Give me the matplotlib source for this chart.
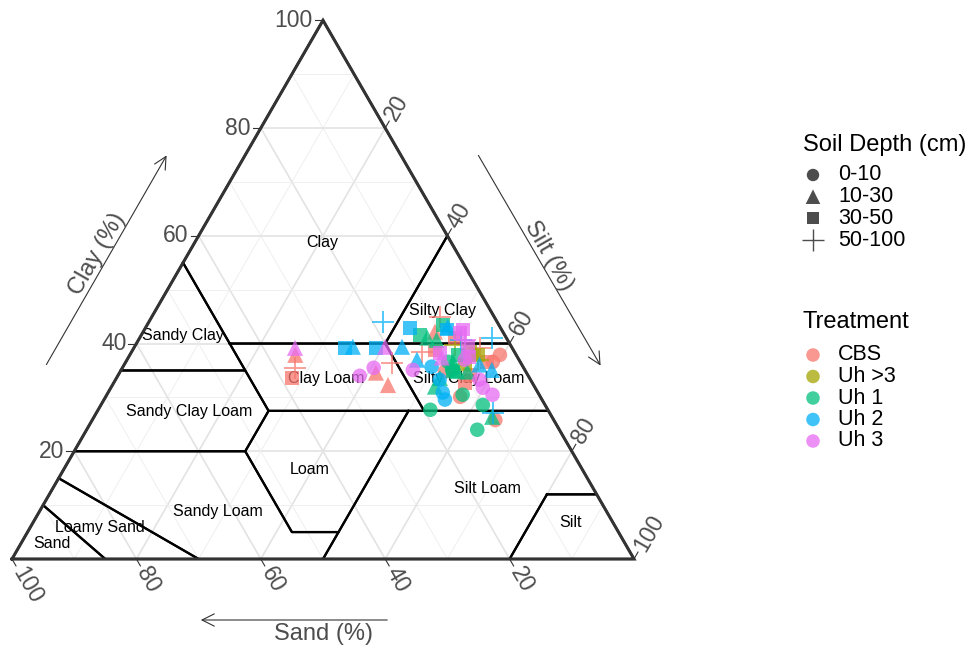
import numpy as np
import matplotlib.pyplot as plt

plt.rcParams['font.family'] = ['Liberation Sans', 'DejaVu Sans']

# classes
treatments = ['CBS', 'Uh >3', 'Uh 1', 'Uh 2', 'Uh 3']
treat_cols = ['#F8766D', '#A3A500', '#00BF7D', '#00B0F6', '#E76BF3']
depths = ['0-10', '10-30', '30-50', '50-100']
depth_marks = ['o', '^', 's', '+']

# samples: sand / silt / clay (%) and depth class
cbs_sand = [35.5, 36.7, 38.2, 20.7, 24.2, 23.4, 8.7, 14.8, 2.6, 12.9, 9.4, 4.4, 10.9, 5.3, 5.2, 12.6, 8.2, 9.3, 13.0, 10.8]
cbs_silt = [26.6, 27.8, 28.2, 42.9, 41.2, 44.3, 46.3, 46.7, 59.5, 57.0, 64.8, 59.0, 46.9, 58.1, 55.6, 48.7, 50.7, 56.5, 52.2, 56.5]
cbs_clay = [37.9, 35.5, 33.6, 36.4, 34.6, 32.3, 45.0, 38.5, 37.9, 30.1, 25.8, 36.6, 42.2, 36.6, 39.2, 38.7, 41.1, 34.2, 34.8, 32.7]
cbs_depth = ['10-30', '50-100', '30-50', '50-100', '10-30', '10-30', '50-100', '50-100', '0-10', '0-10',
             '0-10', '0-10', '10-30', '30-50', '50-100', '30-50', '30-50', '30-50', '0-10', '30-50']

uh3p_sand = [8.9, 6.2, 6.6, 7.1, 9.1]
uh3p_silt = [51.3, 55.9, 56.4, 54.4, 54.8]
uh3p_clay = [39.8, 37.9, 37.0, 38.5, 36.1]
uh3p_depth = ['50-100', '30-50', '50-100', '30-50', '30-50']

uh1_sand = [13.6, 11.4, 10.8, 11.7, 16.0, 12.3, 18.9, 10.0, 9.6, 13.2, 9.4, 9.0, 12.7, 9.3, 11.6, 11.7, 14.4, 11.0]
uh1_silt = [44.8, 47.9, 52.6, 53.5, 52.0, 57.2, 53.4, 61.4, 64.0, 62.8, 55.8, 47.5, 46.2, 52.8, 51.8, 53.2, 52.0, 54.1]
uh1_clay = [41.6, 40.7, 36.6, 34.8, 32.0, 30.5, 27.7, 28.6, 26.4, 24.0, 34.8, 43.5, 41.1, 37.9, 36.6, 35.1, 33.6, 34.9]
uh1_depth = ['30-50', '10-30', '10-30', '30-50', '10-30', '0-10', '0-10', '0-10', '10-30',
             '0-10', '10-30', '30-50', '10-30', '30-50', '0-10', '0-10', '10-30', '10-30']

uh2_sand = [26.9, 25.5, 21.9, 18.4, 14.6, 8.8, 17.6, 2.3, 16.4, 14.7, 15.3, 15.6, 9.1, 6.8, 5.3, 8.4, 14.6, 7.4]
uh2_silt = [33.9, 35.1, 38.9, 37.6, 42.5, 48.6, 43.0, 56.6, 46.6, 49.6, 53.8, 54.8, 63.8, 57.1, 59.6, 48.5, 52.1, 51.9]
uh2_clay = [39.2, 39.4, 39.2, 44.0, 42.9, 42.6, 39.4, 41.1, 37.0, 35.7, 30.9, 29.6, 27.1, 36.1, 35.1, 43.1, 33.3, 40.7]
uh2_depth = ['30-50', '10-30', '30-50', '50-100', '30-50', '30-50', '10-30', '50-100', '10-30',
             '0-10', '0-10', '0-10', '50-100', '10-30', '10-30', '10-30', '0-10', '50-100']

uh3_sand = [34.9, 20.3, 24.1, 27.1, 6.2, 6.8, 12.1, 18.0, 8.4, 7.5, 8.2, 7.7, 12.2, 8.7, 7.0, 7.0]
uh3_silt = [25.9, 40.3, 40.4, 38.9, 51.2, 52.5, 49.6, 46.9, 59.8, 62.0, 58.5, 54.8, 50.4, 54.3, 51.0, 53.6]
uh3_clay = [39.2, 39.4, 35.5, 34.0, 42.6, 40.7, 38.3, 35.1, 31.8, 30.5, 33.3, 37.5, 37.4, 37.0, 42.0, 39.4]
uh3_depth = ['10-30', '10-30', '0-10', '0-10', '30-50', '50-100', '30-50', '0-10', '0-10',
             '0-10', '0-10', '30-50', '10-30', '0-10', '30-50', '30-50']

samples = {
    'CBS': (cbs_sand, cbs_silt, cbs_clay, cbs_depth),
    'Uh >3': (uh3p_sand, uh3p_silt, uh3p_clay, uh3p_depth),
    'Uh 1': (uh1_sand, uh1_silt, uh1_clay, uh1_depth),
    'Uh 2': (uh2_sand, uh2_silt, uh2_clay, uh2_depth),
    'Uh 3': (uh3_sand, uh3_silt, uh3_clay, uh3_depth),
}

# USDA texture classes (sand, silt, clay)
usda_regions = {
    'Clay': [(0, 0, 100), (45, 0, 55), (45, 15, 40), (20, 40, 40), (0, 40, 60)],
    'Sandy Clay': [(45, 0, 55), (65, 0, 35), (45, 20, 35), (45, 15, 40)],
    'Silty Clay': [(0, 40, 60), (20, 40, 40), (0, 60, 40)],
    'Clay Loam': [(45, 15, 40), (20, 40, 40), (20, 52.5, 27.5), (45, 27.5, 27.5)],
    'Silty Clay Loam': [(20, 40, 40), (0, 60, 40), (0, 72.5, 27.5), (20, 52.5, 27.5)],
    'Sandy Clay Loam': [(65, 0, 35), (80, 0, 20), (52.5, 27.5, 20), (45, 27.5, 27.5), (45, 20, 35)],
    'Loam': [(45, 27.5, 27.5), (22.5, 50, 27.5), (45, 50, 5), (52.5, 42.5, 5), (52.5, 27.5, 20)],
    'Silt Loam': [(22.5, 50, 27.5), (0, 72.5, 27.5), (0, 88, 12), (8, 80, 12), (20, 80, 0), (50, 50, 0)],
    'Silt': [(8, 80, 12), (0, 88, 12), (0, 100, 0), (20, 80, 0)],
    'Sandy Loam': [(80, 0, 20), (85, 0, 15), (70, 30, 0), (50, 50, 0), (45, 50, 5), (52.5, 42.5, 5), (52.5, 27.5, 20)],
    'Loamy Sand': [(85, 0, 15), (90, 0, 10), (85, 15, 0), (70, 30, 0)],
    'Sand': [(90, 0, 10), (100, 0, 0), (85, 15, 0)],
}
region_labels = ['Clay', 'Sandy Clay', 'Silty Clay', 'Clay Loam', 'Silty Clay Loam', 'Sandy Clay Loam',
                 'Loam', 'Sandy Loam', 'Silt Loam', 'Loamy Sand', 'Sand', 'Silt']
label_sand = [20.8, 51.8, 7.8, 32.8, 9.9, 57.8, 43.8, 62.5, 17.0, 83.0, 92.2, 6.9]
label_silt = [20.5, 6.8, 46.1, 33.7, 56.6, 14.9, 39.5, 28.6, 70.0, 11.1, 5.0, 86.4]
label_clay = [58.7, 41.4, 46.1, 33.5, 33.5, 27.3, 16.7, 8.9, 13.0, 5.9, 2.8, 6.7]

tick_vals = [20, 40, 60, 80, 100]

R3 = np.sqrt(3) / 2


def tern(sand, silt, clay):
    sand, silt, clay = (np.asarray(v, dtype=float) for v in (sand, silt, clay))
    tot = sand + silt + clay
    return (silt + clay / 2) / tot, clay / tot * R3


fig = plt.figure(figsize=(9.69, 6.48), dpi=100)
side = 622  # triangle side in pixels
P = 1 / side  # one pixel in data units
ax = fig.add_axes([0, 0, 1, 1])
ax.set_xlim(-12 * P, (969 - 12) * P)
ax.set_ylim(-89 * P, (648 - 89) * P)
ax.axis('off')

# grid
for v in range(10, 100, 10):
    major = v % 20 == 0
    kw = dict(color='#e3e3e3' if major else '#efefef', lw=1.2 if major else 0.7, zorder=1)
    for a, b in [((100 - v, 0, v), (0, 100 - v, v)),
                 ((100 - v, v, 0), (0, v, 100 - v)),
                 ((v, 100 - v, 0), (v, 0, 100 - v))]:
        x, y = tern(*zip(a, b))
        ax.plot(x, y, **kw)

# texture classes
for name, pts in usda_regions.items():
    sa, si, cl = zip(*(pts + [pts[0]]))
    x, y = tern(sa, si, cl)
    ax.plot(x, y, color='black', lw=1.6, zorder=2)

lx, ly = tern(label_sand, label_silt, label_clay)
for t, x, y in zip(region_labels, lx, ly):
    ax.text(x, y, t, ha='center', va='center', fontsize=11.5, color='black', zorder=3)

# outer frame
x, y = tern([100, 0, 0, 100], [0, 100, 0, 0], [0, 0, 100, 0])
ax.plot(x, y, color='#333333', lw=2.2, zorder=3, solid_joinstyle='miter')

# ticks + labels
tl = 8 * P
tick_col = '#4d4d4d'
tick_fs = 16.5
for v in tick_vals:
    x, y = tern(100 - v, 0, v)
    ax.plot([x, x - tl], [y, y], color='#333333', lw=0.8)
    ax.text(x - tl - 2 * P, y, str(v), ha='right', va='center', fontsize=tick_fs, color=tick_col)

    x, y = tern(0, v, 100 - v)
    ax.plot([x, x + 0.5 * tl], [y, y + R3 * tl], color='#333333', lw=0.8)
    d = tl + 3 * P
    ax.text(x + 0.5 * d, y + R3 * d, str(v), rotation=60, rotation_mode='anchor',
            ha='left', va='center', fontsize=tick_fs, color=tick_col)

    x, y = tern(v, 100 - v, 0)
    ax.plot([x, x + 0.5 * tl], [y, y - R3 * tl], color='#333333', lw=0.8)
    ax.text(x + 0.5 * d, y - R3 * d, str(v), rotation=-60, rotation_mode='anchor',
            ha='left', va='center', fontsize=tick_fs, color=tick_col)


# axis titles with arrows (pixel positions -> data units)
def px(xp, yp):
    return (xp - 12) * P, (559 - yp) * P


arrow_kw = dict(arrowstyle='->', lw=0.8, color='#333333', mutation_scale=22)
ax.annotate('', xy=px(168, 153), xytext=px(45, 367), arrowprops=arrow_kw)
ax.annotate('', xy=px(602, 368), xytext=px(477, 153), arrowprops=arrow_kw)
ax.annotate('', xy=px(198, 620), xytext=px(390, 620), arrowprops=arrow_kw)
ax.text(*px(97, 254), 'Clay (%)', rotation=60, rotation_mode='anchor', ha='center', va='center',
        fontsize=17, color=tick_col)
ax.text(*px(549, 256), 'Silt (%)', rotation=-60, rotation_mode='anchor', ha='center', va='center',
        fontsize=17, color=tick_col)
ax.text(*px(323, 634), 'Sand (%)', ha='center', va='center', fontsize=17, color=tick_col)

# samples
msize = {'o': 110, '^': 135, 's': 100, '+': 270}
for tr, col in zip(treatments, treat_cols):
    sa, si, cl, dp = samples[tr]
    x, y = tern(sa, si, cl)
    dp = np.array(dp)
    for d, m in zip(depths, depth_marks):
        sel = dp == d
        if not sel.any():
            continue
        if m == '+':
            ax.scatter(x[sel], y[sel], marker=m, s=msize[m], color=col, alpha=0.75, linewidths=1.3, zorder=4)
        else:
            ax.scatter(x[sel], y[sel], marker=m, s=msize[m], color=col, alpha=0.75, edgecolors='none', zorder=4)

# legends
lax = fig.add_axes([0, 0, 1, 1])
lax.set_xlim(0, 969)
lax.set_ylim(648, 0)
lax.axis('off')
lax.text(803, 145, 'Soil Depth (cm)', ha='left', va='center', fontsize=17)
leg_size = {'o': 80, '^': 110, 's': 75, '+': 260}
for i, (d, m) in enumerate(zip(depths, depth_marks)):
    yy = 175 + i * 21.7
    if m == '+':
        lax.scatter([813], [yy], marker=m, s=leg_size[m], color='#4d4d4d', linewidths=1.0)
    else:
        lax.scatter([813], [yy], marker=m, s=leg_size[m], color='#4d4d4d', edgecolors='none')
    lax.text(838, yy, d, ha='left', va='center', fontsize=15.5)

lax.text(803, 322, 'Treatment', ha='left', va='center', fontsize=17)
for i, (tr, col) in enumerate(zip(treatments, treat_cols)):
    yy = 355 + i * 21.5
    lax.scatter([813], [yy], marker='o', s=95, color=col, alpha=0.75, edgecolors='none')
    lax.text(838, yy, tr, ha='left', va='center', fontsize=15.5)

fig.savefig('out.png', dpi=100)
